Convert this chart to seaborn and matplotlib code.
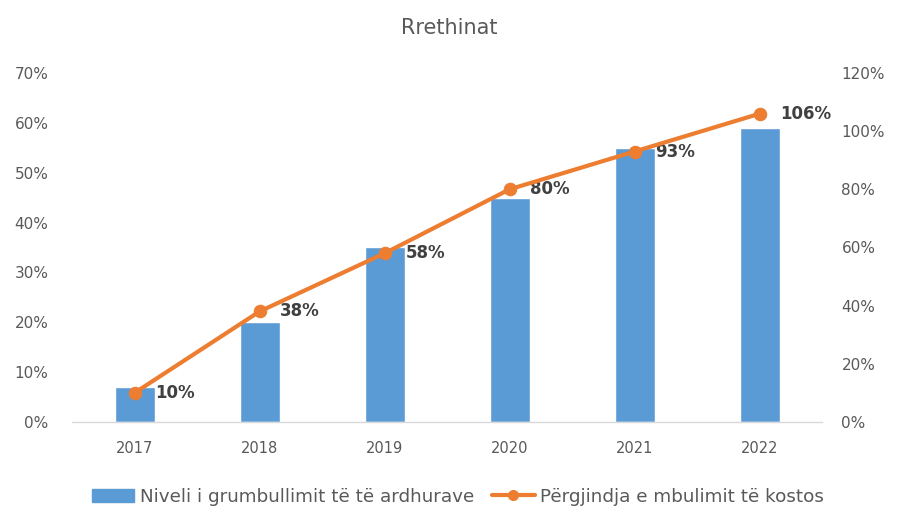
import matplotlib
matplotlib.use("Agg")
import matplotlib.pyplot as plt
import seaborn as sns
import numpy as np
import pandas as pd
from matplotlib.ticker import PercentFormatter
from matplotlib.lines import Line2D
from matplotlib.patches import Patch

years = ["2017", "2018", "2019", "2020", "2021", "2022"]
collection_level = [0.07, 0.20, 0.35, 0.45, 0.55, 0.59]
cost_coverage = [0.10, 0.38, 0.58, 0.80, 0.93, 1.06]
coverage_labels = ["10%", "38%", "58%", "80%", "93%", "106%"]
bar_name = "Niveli i grumbullimit të të ardhurave"
line_name = "Përgjindja e mbulimit të kostos"
title = "Rrethinat"

BLUE = "#5B9BD5"
ORANGE = "#ED7D31"
GRAY = "#595959"

sns.set_theme(style="white")
plt.rcParams["font.family"] = ["DejaVu Sans"]

df = pd.DataFrame({"year": years, "level": collection_level, "cover": cost_coverage})

fig = plt.figure(figsize=(8.98, 5.13), dpi=100)
ax = fig.add_axes([0.0802, 0.1774, 0.8352, 0.6803])

sns.barplot(data=df, x="year", y="level", color=BLUE, saturation=1, width=0.32, ax=ax)
ax.set_ylim(0, 0.70)
ax.set_yticks(np.arange(0, 0.71, 0.10))
ax.yaxis.set_major_formatter(PercentFormatter(1.0, decimals=0))
ax.set_xlim(-0.5, len(years) - 0.5)
ax.set_xlabel("")
ax.set_ylabel("")
for s in ["top", "right", "left"]:
    ax.spines[s].set_visible(False)
ax.spines["bottom"].set_color("#D9D9D9")
ax.spines["bottom"].set_linewidth(1)
ax.tick_params(axis="both", colors=GRAY, length=0)
ax.tick_params(axis="y", pad=17, labelsize=11)
ax.tick_params(axis="x", pad=14, labelsize=10.5)

ax2 = ax.twinx()
xpos = np.arange(len(years))
sns.lineplot(x=xpos, y=df["cover"], color=ORANGE, linewidth=3, marker="o",
             markersize=9, markeredgecolor=ORANGE, ax=ax2, zorder=5)
ax2.set_ylim(0, 1.20)
ax2.set_yticks(np.arange(0, 1.21, 0.20))
ax2.yaxis.set_major_formatter(PercentFormatter(1.0, decimals=0))
ax2.set_xlim(-0.5, len(years) - 0.5)
ax2.set_ylabel("")
for s in ["top", "right", "left", "bottom"]:
    ax2.spines[s].set_visible(False)
ax2.tick_params(axis="y", colors=GRAY, labelsize=11, length=0, pad=14)
ax2.grid(False)
ax.grid(False)

for xi, yi, lab in zip(xpos, cost_coverage, coverage_labels):
    ax2.annotate(lab, (xi, yi), xytext=(15, 0), textcoords="offset points",
                 ha="left", va="center", fontsize=12, fontweight="bold", color="#404040")

fig.suptitle(title, x=0.5, y=0.965, fontsize=15, color=GRAY)

handles = [Patch(facecolor=BLUE, edgecolor=BLUE),
           Line2D([0], [0], color=ORANGE, linewidth=3, marker="o", markersize=7)]
fig.legend(handles, [bar_name, line_name], loc="center", bbox_to_anchor=(0.51, 0.032),
           ncol=2, frameon=False, fontsize=13.2, labelcolor=GRAY, handlelength=2.3,
           columnspacing=1.0, handletextpad=0.3)

fig.savefig("out.png", dpi=100)
